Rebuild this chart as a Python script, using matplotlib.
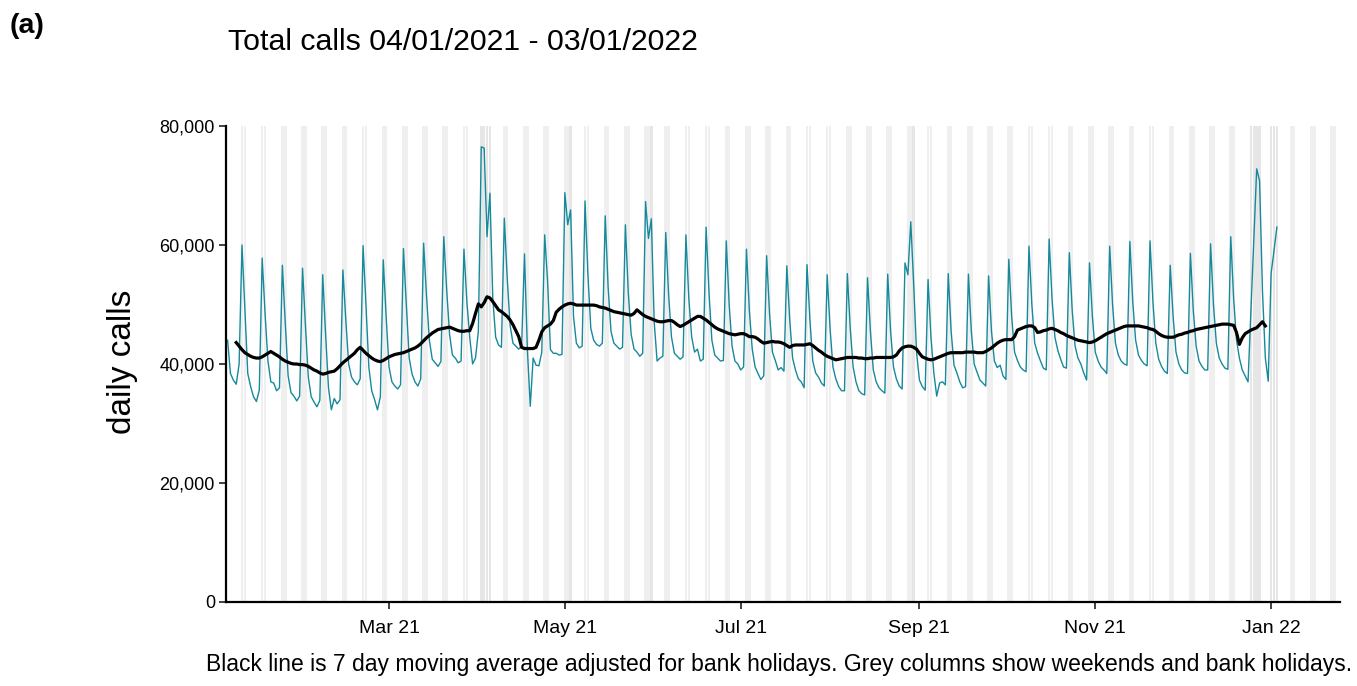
import numpy as np
import pandas as pd
import matplotlib
matplotlib.use('Agg')
import matplotlib.pyplot as plt
import matplotlib.dates as mdates
from matplotlib.ticker import FuncFormatter

plt.rcParams['font.family'] = ['Liberation Sans', 'DejaVu Sans']

# daily calls (thousands), Mon 04/01/2021 .. Mon 03/01/2022
start_date = '2021-01-04'
calls_k = [
    44.0, 38.4, 37.3, 36.6, 40.0,
    60.0, 49.1, 38.4, 36.2, 34.5, 33.7, 35.6,
    57.8, 48.5, 40.5, 37.0, 36.8, 35.5, 36.0,
    56.6, 47.0, 38.0, 35.2, 34.6, 33.8, 34.6,
    56.1, 46.5, 37.8, 34.5, 33.6, 32.8, 33.9,
    55.0, 45.0, 36.0, 32.3, 34.2, 33.3, 34.0,
    55.8, 47.5, 40.0, 37.8, 37.0, 36.5, 37.5,
    59.9, 50.0, 39.5, 35.5, 34.0, 32.3, 34.5,
    57.5, 48.0, 39.5, 37.0, 36.3, 35.8, 36.5,
    59.4, 50.0, 41.0, 38.3, 37.0, 36.3, 37.5,
    60.3, 51.5, 44.0, 40.8, 40.2, 39.6, 40.4,
    61.4, 52.5, 45.0, 41.5, 41.0, 40.2, 40.5,
    59.3, 50.5, 44.5, 40.0, 41.0, 45.5, 76.5,
    76.3, 61.4, 68.7, 51.0, 44.5, 43.2, 42.8,
    64.5, 54.5, 46.5, 43.5, 43.0, 42.5, 43.0,
    58.5, 42.4, 32.9, 41.0, 39.8, 39.7, 42.0,
    61.7, 54.0, 42.4, 41.8, 41.8, 41.5, 41.6,
    68.8, 63.4, 65.9, 48.0, 43.5, 42.7, 43.0,
    67.4, 55.0, 46.0, 44.0, 43.3, 43.0, 43.5,
    64.9, 53.0, 45.5, 43.5, 43.0, 42.5, 42.8,
    63.4, 52.0, 45.0, 42.5, 42.0, 41.3, 41.8,
    67.3, 61.1, 64.4, 47.0, 40.5, 41.0, 41.3,
    62.1, 51.5, 44.5, 41.8, 41.3, 40.8, 41.2,
    61.7, 51.0, 44.5, 42.0, 42.5, 40.5, 40.8,
    63.0, 52.0, 44.0, 41.5, 41.0, 40.5, 40.6,
    60.7, 50.0, 43.0, 40.5, 40.0, 39.0, 39.5,
    59.3, 49.0, 42.5, 39.5, 38.4, 37.4, 38.0,
    58.2, 48.5, 42.0, 40.6, 39.0, 39.4, 38.8,
    56.5, 47.5, 41.0, 39.0, 37.5, 37.0, 36.0,
    56.7, 47.5, 40.5, 38.5, 37.8, 36.8, 36.3,
    55.0, 46.0, 39.5, 37.5, 36.2, 35.5, 35.5,
    55.2, 46.0, 39.5, 37.0, 35.5, 35.0, 34.8,
    54.5, 45.5, 39.0, 37.0, 36.0, 35.5, 35.1,
    55.1, 45.5, 39.5, 37.5, 36.3, 35.8, 57.0,
    55.0, 63.9, 53.5, 42.0, 37.3, 36.2, 35.6,
    54.2, 44.5, 38.5, 34.6, 36.8, 37.0, 36.5,
    55.2, 45.5, 39.8, 38.5, 37.0, 36.0, 36.2,
    55.1, 45.5, 40.0, 38.6, 37.3, 36.8, 36.3,
    54.8, 45.5, 40.5, 39.4, 39.8, 38.0, 37.4,
    57.6, 48.0, 42.0, 40.6, 39.5, 39.0, 38.7,
    59.8, 50.0, 43.5, 41.8, 40.5, 39.3, 39.0,
    61.0, 51.0, 44.5, 42.3, 40.8, 39.5, 39.3,
    58.7, 49.0, 43.0, 41.0, 40.0, 38.5, 37.3,
    57.0, 48.0, 42.0, 40.5, 39.5, 39.0, 38.4,
    59.8, 50.0, 43.5, 41.5, 40.5, 40.0, 39.8,
    60.6, 50.5, 44.0, 41.5, 40.6, 40.0, 39.7,
    60.7, 50.5, 43.5, 40.8, 39.6, 38.8, 38.4,
    56.6, 48.0, 42.0, 40.0, 39.0, 38.5, 38.4,
    58.6, 49.0, 43.0, 40.5, 39.6, 39.0, 39.0,
    60.2, 50.0, 43.5, 41.0, 40.0, 39.3, 39.1,
    61.4, 51.0, 44.0, 41.0, 39.0, 38.0, 37.0,
    49.0, 61.0, 72.8, 70.8, 52.3, 41.0, 37.1,
    55.2, 59.0, 63.0,
]

# 7 day moving average (thousands), Thu 07/01/2021 onwards
ma_start = '2021-01-07'
ma_k = [
    43.6, 43.0, 42.4, 41.9, 41.6, 41.3, 41.1,
    41.0, 41.0, 41.2, 41.5, 41.8, 42.1, 41.8,
    41.5, 41.2, 40.8, 40.5, 40.3, 40.1, 40.0,
    40.0, 39.9, 39.9, 39.8, 39.6, 39.3, 39.0,
    38.8, 38.5, 38.3, 38.4, 38.6, 38.7, 38.8,
    39.2, 39.7, 40.2, 40.6, 41.0, 41.4, 41.8,
    42.4, 42.8, 42.3, 41.8, 41.4, 41.0, 40.7,
    40.5, 40.4, 40.6, 40.9, 41.2, 41.4, 41.6,
    41.7, 41.8, 41.9, 42.1, 42.3, 42.5, 42.7,
    43.0, 43.4, 43.9, 44.4, 44.8, 45.2, 45.5,
    45.8, 45.9, 46.0, 46.1, 46.2, 46.0, 45.8,
    45.6, 45.5, 45.5, 45.6, 45.6, 46.8, 48.5,
    50.1, 49.6, 50.3, 51.3, 51.1, 50.5, 49.8,
    49.1, 48.8, 48.4, 48.0, 47.4, 46.6, 45.6,
    44.6, 42.8, 42.6, 42.6, 42.6, 42.6, 42.8,
    44.0, 45.4, 46.1, 46.4, 46.7, 47.3, 48.7,
    49.2, 49.6, 49.9, 50.1, 50.2, 50.1, 49.9,
    49.9, 49.9, 49.9, 49.9, 49.9, 49.9, 49.8,
    49.6, 49.5, 49.4, 49.2, 49.0, 48.8, 48.7,
    48.6, 48.5, 48.4, 48.3, 48.2, 48.5, 49.1,
    48.7, 48.3, 48.0, 47.8, 47.6, 47.4, 47.2,
    47.1, 47.1, 47.2, 47.3, 47.3, 47.0, 46.6,
    46.3, 46.5, 46.8, 47.1, 47.4, 47.7, 48.0,
    48.0, 47.7, 47.4, 47.0, 46.6, 46.2, 45.9,
    45.7, 45.5, 45.3, 45.1, 45.0, 44.9, 45.0,
    45.1, 45.1, 44.9, 44.6, 44.6, 44.5, 44.2,
    43.8, 43.5, 43.6, 43.7, 43.8, 43.7, 43.7,
    43.6, 43.4, 43.1, 42.8, 43.1, 43.2, 43.2,
    43.2, 43.2, 43.3, 43.4, 43.1, 42.7, 42.3,
    42.0, 41.6, 41.3, 41.1, 40.9, 40.7, 40.8,
    40.9, 41.0, 41.1, 41.1, 41.1, 41.1, 41.0,
    41.0, 40.9, 40.9, 41.0, 41.0, 41.1, 41.1,
    41.1, 41.1, 41.1, 41.1, 41.2, 41.5, 42.2,
    42.7, 42.9, 43.0, 43.0, 42.8, 42.5, 41.8,
    41.2, 41.0, 40.8, 40.7, 40.8, 41.0, 41.2,
    41.4, 41.6, 41.8, 41.9, 41.9, 41.9, 41.9,
    41.9, 42.0, 42.0, 42.0, 42.0, 41.9, 41.9,
    41.9, 42.1, 42.4, 42.7, 43.1, 43.5, 43.8,
    44.0, 44.1, 44.1, 44.1, 44.6, 45.7, 45.9,
    46.1, 46.3, 46.4, 46.4, 46.1, 45.3, 45.4,
    45.6, 45.7, 45.9, 46.0, 45.8, 45.6, 45.3,
    45.1, 44.8, 44.6, 44.4, 44.2, 44.0, 43.9,
    43.8, 43.7, 43.6, 43.7, 43.9, 44.2, 44.5,
    44.8, 45.1, 45.3, 45.5, 45.7, 45.9, 46.1,
    46.3, 46.4, 46.4, 46.4, 46.4, 46.4, 46.3,
    46.2, 46.1, 45.9, 45.8, 45.5, 45.1, 44.8,
    44.6, 44.5, 44.5, 44.5, 44.7, 44.9, 45.0,
    45.2, 45.3, 45.5, 45.6, 45.8, 45.9, 46.0,
    46.1, 46.2, 46.3, 46.4, 46.5, 46.6, 46.7,
    46.7, 46.7, 46.6, 46.5, 45.3, 43.3, 44.4,
    45.1, 45.4, 45.7, 45.9, 46.1, 46.6, 47.1,
    46.4,
]

bank_holidays = ['2021-04-02', '2021-04-05', '2021-05-03', '2021-05-31',
                 '2021-08-30', '2021-12-27', '2021-12-28', '2022-01-03']
# weekend days inside the Easter / Christmas breaks (drawn darker)
holiday_weekend_days = ['2021-04-03', '2021-04-04', '2021-12-25',
                        '2021-12-26', '2022-01-01', '2022-01-02']

x_left = '2021-01-04'
x_right = '2022-01-25'

title = 'Total calls 04/01/2021 - 03/01/2022'
caption = ('Black line is 7 day moving average adjusted for bank holidays. '
           'Grey columns show weekends and bank holidays.')

dates = pd.date_range(start_date, periods=len(calls_k))
ma_dates = pd.date_range(ma_start, periods=len(ma_k))
calls = np.array(calls_k) * 1000
ma = np.array(ma_k) * 1000

W, H = 1357, 686
fig = plt.figure(figsize=(W / 100, H / 100), dpi=100)
ax = fig.add_axes([226 / W, 1 - 602 / H, (1340 - 226) / W, (602 - 126) / H])

# grey columns: weekends + bank holidays
all_days = pd.date_range('2021-01-02', '2022-01-31')
bh = pd.to_datetime(bank_holidays)
dark = set(bh) | set(pd.to_datetime(holiday_weekend_days))
for d in all_days:
    if d.dayofweek >= 5 or d in bh:
        c = '#e6e6e6' if d in dark else '#efefef'
        dn = mdates.date2num(d)
        ax.axvspan(dn - 0.45, dn + 0.45, color=c, lw=0, zorder=0)

ax.plot(dates, calls, color='#16899b', lw=1.0, zorder=2)
ax.plot(ma_dates, ma, color='black', lw=2.3, zorder=3)

ax.set_ylim(0, 80000)
ax.set_yticks([0, 20000, 40000, 60000, 80000])
ax.yaxis.set_major_formatter(FuncFormatter(lambda v, p: f'{int(v):,}'))
ax.set_xlim(mdates.date2num(pd.Timestamp(x_left)) - 0.55,
            mdates.date2num(pd.Timestamp(x_right)) - 0.1)
ax.xaxis.set_major_locator(mdates.MonthLocator(bymonth=[1, 3, 5, 7, 9, 11]))
ax.xaxis.set_major_formatter(mdates.DateFormatter('%b %y'))

for s in ['top', 'right']:
    ax.spines[s].set_visible(False)
for s in ['left', 'bottom']:
    ax.spines[s].set_linewidth(1.6)
    ax.spines[s].set_color('black')
ax.tick_params(axis='both', direction='out', length=5, width=1.3,
               color='#333333', labelcolor='black')
ax.tick_params(axis='x', pad=8, labelsize=14)
ax.tick_params(axis='y', pad=3, labelsize=13)

fig.text(10 / W, 1 - 26 / H, '(a)', fontsize=20.5, fontweight='bold',
         ha='left', va='center')
fig.text(228 / W, 1 - 42 / H, title, fontsize=21.8, ha='left', va='center')
fig.text(122 / W, 1 - 362 / H, 'daily calls', fontsize=24, rotation=90,
         ha='center', va='center')
fig.text(1352 / W, 1 - 665 / H, caption, fontsize=16.5, ha='right', va='center')

fig.savefig('out.png', dpi=100)
